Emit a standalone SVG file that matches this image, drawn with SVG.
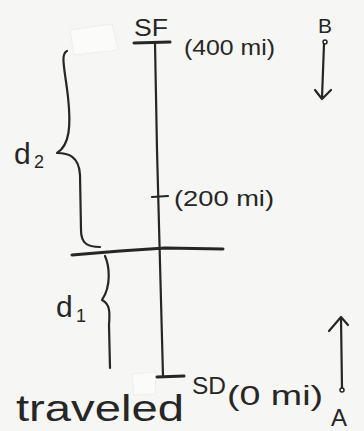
<svg xmlns="http://www.w3.org/2000/svg" width="364" height="431" viewBox="0 0 364 431">
<defs>
<style>
.ink{fill:none;stroke:#262626;stroke-width:2.2;stroke-linecap:round;stroke-linejoin:round}
.thick{stroke-width:3}
.t{font-family:"Liberation Sans","DejaVu Sans",sans-serif;fill:#262626}
.smudge{fill:#fbfbfa;stroke:#e6e6e4;stroke-width:0.6}
</style>
</defs>
<rect width="364" height="431" fill="#f6f6f4"/>
<g id="erased">
<path class="smudge" d="M70,30 L112,24 L118,50 L74,55 Z"/>
<path class="smudge" d="M132,374 L156,372 L155,394 L134,395 Z"/>
</g>
<g id="connectors">
<path class="ink" d="M155,43 L157,150 L163,376"/>
<path class="ink thick" d="M72,255 L120,251 L165,248 L223,249"/>
</g>
<g id="sf">
<path class="ink thick" d="M134,43 L170,42"/>
<text class="t" x="134" y="36" font-size="24" textLength="34" lengthAdjust="spacingAndGlyphs">SF</text>
<text class="t" x="184" y="55" font-size="22" textLength="91" lengthAdjust="spacingAndGlyphs">(400 mi)</text>
</g>
<g id="mid">
<path class="ink" d="M152,197 L168,196"/>
<text class="t" x="174" y="206" font-size="22" textLength="100" lengthAdjust="spacingAndGlyphs">(200 mi)</text>
</g>
<g id="sd">
<path class="ink thick" d="M157,377 L184,376"/>
<text class="t" x="192" y="394" font-size="24" textLength="34" lengthAdjust="spacingAndGlyphs">SD</text>
<text class="t" x="227" y="405" font-size="28" textLength="96" lengthAdjust="spacingAndGlyphs">(0 mi)</text>
</g>
<g id="d2">
<path class="ink" d="M67,51 C60,54 65,70 68,97 C71,125 70,145 57,153 C68,153 79,156 80,175 L81,230 C81,244 88,247 100,247"/>
<text class="t" x="14" y="164" font-size="30">d</text>
<text class="t" x="34" y="168" font-size="18">2</text>
</g>
<g id="d1">
<path class="ink" d="M105,256 C109,265 112,285 102,300 C110,304 110,312 109,325 L110,368"/>
<text class="t" x="56" y="317" font-size="30">d</text>
<text class="t" x="76" y="322" font-size="18">1</text>
</g>
<g id="b">
<text class="t" x="318" y="33" font-size="21">B</text>
<circle cx="325" cy="42" r="2" fill="none" stroke="#262626" stroke-width="1.5"/>
<path class="ink" d="M324,44 L322,98 M315,90 L322,99 L331,90"/>
</g>
<g id="a">
<circle cx="342" cy="390" r="2" fill="none" stroke="#262626" stroke-width="1.5"/>
<path class="ink" d="M342,388 L341,318 M329,331 L341,317 L348,325"/>
<text class="t" x="331" y="426" font-size="24">A</text>
</g>
<g id="traveled">
<text class="t" x="16" y="421" font-size="36" textLength="168" lengthAdjust="spacingAndGlyphs">traveled</text>
</g>
</svg>
